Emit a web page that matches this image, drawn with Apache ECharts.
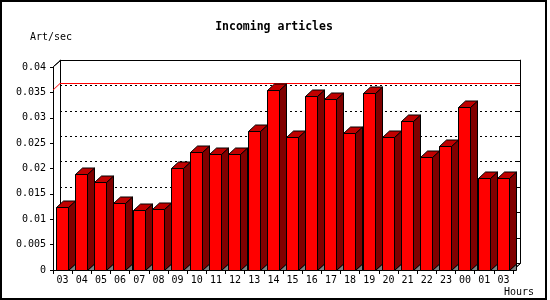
<!DOCTYPE html>
<html><head><meta charset="utf-8">
<script src="https://cdn.jsdelivr.net/npm/echarts@6/dist/echarts.min.js"></script>
<style>html,body{margin:0;padding:0;background:#fff}#c{width:550px;height:300px}</style>
</head><body><div id="c"></div>
<script>
const categories = ['03','04','05','06','07','08','09','10','11','12','13','14','15','16','17','18','19','20','21','22','23','00','01','03'];
const values = [0.0123,0.0188,0.0172,0.0131,0.0117,0.0119,0.0200,0.0231,0.0227,0.0227,0.0273,0.0354,0.0262,0.0342,0.0335,0.0269,0.0348,0.0262,0.0293,0.0222,0.0243,0.0320,0.0180,0.0180];
const yTickLabels = ['0','0.005','0.01','0.015','0.02','0.025','0.03','0.035','0.04'];
const titleText = 'Incoming articles';
const yName = 'Art/sec';
const xName = 'Hours';

const DX = 7, DY = -6.5;
const FONT = 'DejaVu Sans Mono';
const maxVal = Math.max.apply(null, values);
const s = v => Math.round(v - 0.5) + 0.5;
const f = v => Math.floor(v);

function renderBar(params, api) {
  const i = api.value(0), v = api.value(1);
  const top = api.coord([i, v]);
  const base = api.coord([i, 0]);
  const band = api.size([1, 0])[0];
  const x0 = s(top[0] - band / 2 + band * 0.177);
  const x1 = s(top[0] - band / 2 + band * 0.177 + band * 0.626);
  const yT = s(top[1]), yB = s(base[1]);
  const ln = {stroke: '#000000', lineWidth: 1};
  return {type: 'group', children: [
    {type: 'polygon', shape: {points: [[x1, yB], [x1 + DX, yB + DY], [x1 + DX, yB]]}, style: Object.assign({fill: '#808080'}, ln)},
    {type: 'polygon', shape: {points: [[x1, yT], [x1 + DX, yT + DY], [x1 + DX, yB + DY], [x1, yB]]}, style: Object.assign({fill: '#800000'}, ln)},
    {type: 'polygon', shape: {points: [[x0, yT], [x0 + DX, yT + DY], [x1 + DX, yT + DY], [x1, yT]]}, style: Object.assign({fill: '#c00000'}, ln)},
    {type: 'rect', shape: {x: x0, y: yT, width: x1 - x0, height: yB - yT}, style: Object.assign({fill: '#ff0000'}, ln)}
  ]};
}

function renderFrame(params, api) {
  const bl = api.coord([0, maxVal]);
  const tl = api.coord([0, 0.04]);
  const rb = api.coord([categories.length, 0]);
  const yr = f(bl[1]);
  const xl = f(bl[0]);
  return {type: 'group', children: [
    {type: 'polygon', shape: {points: [[xl - DX, yr - DY], [xl, yr], [xl, yr + 1], [xl - DX, yr - DY + 1]]}, style: {fill: '#ff0000', stroke: null}},
    {type: 'polygon', shape: {points: [[s(tl[0] - DX), s(tl[1] - DY)], [s(tl[0]), s(tl[1])]]}, style: {fill: null, stroke: '#000000', lineWidth: 1}},
    {type: 'polygon', shape: {points: [[s(rb[0] - DX), s(rb[1] - DY)], [s(rb[0]), s(rb[1])]]}, style: {fill: null, stroke: '#000000', lineWidth: 1}}
  ]};
}

const chart = echarts.init(document.getElementById('c'));
const axisLine = {show: true, onZero: false, lineStyle: {color: '#000', width: 1}};
chart.setOption({
  animation: false,
  backgroundColor: '#fff',
  textStyle: {fontFamily: FONT},
  grid: [
    {left: 53, top: 67, width: 460, height: 203},
    {left: 60, top: 60.155, width: 460, height: 203}
  ],
  xAxis: [
    {type: 'category', gridIndex: 0, data: categories, boundaryGap: true,
      axisLine: axisLine,
      axisTick: {show: true, length: 4, interval: 0, lineStyle: {color: '#000'}},
      axisLabel: {interval: 0, color: '#000', fontFamily: FONT, fontSize: 10, margin: 5},
      splitLine: {show: false}},
    {type: 'value', gridIndex: 1, min: 0, max: 24, position: 'top',
      axisLine: axisLine, axisTick: {show: false}, axisLabel: {show: false}, splitLine: {show: false}}
  ],
  yAxis: [
    {type: 'value', gridIndex: 0, min: 0, max: 0.04, interval: 0.005,
      axisLine: axisLine,
      axisTick: {show: true, length: 3, lineStyle: {color: '#000'}},
      axisLabel: {color: '#000', fontFamily: FONT, fontSize: 10, margin: 7,
        formatter: (v, idx) => yTickLabels[idx]},
      splitLine: {show: false}},
    {type: 'value', gridIndex: 1, min: 0, max: 0.04, interval: 0.005, position: 'left',
      axisLine: axisLine, axisTick: {show: false}, axisLabel: {show: false},
      splitLine: {show: true, lineStyle: {color: '#000', type: [2, 3], width: 1}}},
    {type: 'value', gridIndex: 1, min: 0, max: 0.04, interval: 0.005, position: 'right',
      axisLine: axisLine,
      axisTick: {show: true, inside: true, length: 3, lineStyle: {color: '#000'}},
      axisLabel: {show: false}, splitLine: {show: false}}
  ],
  series: [
    {type: 'line', xAxisIndex: 1, yAxisIndex: 1, z: 3, silent: true, symbol: 'none',
      lineStyle: {color: '#ff0000', width: 1, type: 'solid'}, itemStyle: {color: '#ff0000'},
      data: [[0, maxVal], [categories.length, maxVal]]},
    {type: 'custom', xAxisIndex: 1, yAxisIndex: 1, z: 3, renderItem: renderFrame, data: [[0, maxVal]], silent: true},
    {type: 'custom', xAxisIndex: 0, yAxisIndex: 0, z: 4, renderItem: renderBar,
      data: values.map((v, i) => [i, v]), silent: true}
  ],
  graphic: [
    {type: 'rect', shape: {x: 1, y: 1, width: 545, height: 298}, style: {fill: null, stroke: '#000', lineWidth: 2}, z: 10},
    {type: 'text', x: 274, y: 27, style: {text: titleText, font: 'bold 11.5px "DejaVu Sans Mono"', fill: '#000', textAlign: 'center', textVerticalAlign: 'middle'}},
    {type: 'text', x: 30, y: 37, style: {text: yName, font: '10px "DejaVu Sans Mono"', fill: '#000', textAlign: 'left', textVerticalAlign: 'middle'}},
    {type: 'text', x: 519, y: 292, style: {text: xName, font: '10px "DejaVu Sans Mono"', fill: '#000', textAlign: 'center', textVerticalAlign: 'middle'}}
  ]
});
</script></body></html>
